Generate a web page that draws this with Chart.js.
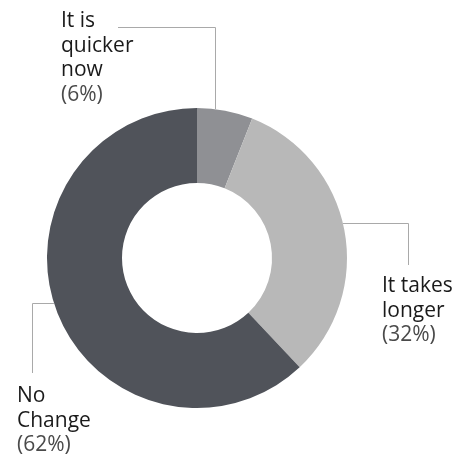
<!DOCTYPE html>
<html>
<head>
<meta charset="utf-8">
<script src="https://cdn.jsdelivr.net/npm/chart.js@4.4.1/dist/chart.umd.min.js"></script>
<style>
  html, body { margin: 0; padding: 0; background: #fff; }
  #wrap { width: 461px; height: 458px; position: relative; }
</style>
</head>
<body>
<div id="wrap"><canvas id="timeChart"></canvas></div>
<script>
// answers and their shares
var answers = ["It is quicker now", "It takes longer", "No Change"];
var shares = [6, 32, 62];
var sliceColors = ["#8f9094", "#b8b8b8", "#50535a"];

// label text lines and where each callout sits
var callouts = [
  { lines: ["It is", "quicker", "now"], x: 61, y: 27, side: "top", lineY: 27, lineX: 215, startX: 118 },
  { lines: ["It takes", "longer"], x: 382, y: 292, side: "right", lineY: 223, lineX: 408, endY: 265 },
  { lines: ["No", "Change"], x: 17, y: 402, side: "left", lineY: 303, lineX: 32, endY: 373 }
];

var calloutPlugin = {
  id: "callouts",
  afterDatasetsDraw: function (chart) {
    var ctx = chart.ctx;
    var arc = chart.getDatasetMeta(0).data[0];
    var cx = arc.x, cy = arc.y, r = arc.outerRadius;
    ctx.save();
    ctx.strokeStyle = "#a9a9a9";
    ctx.lineWidth = 1;
    callouts.forEach(function (c, i) {
      ctx.beginPath();
      if (c.side === "top") {
        var yEdge = cy - Math.sqrt(r * r - (c.lineX - cx) * (c.lineX - cx));
        ctx.moveTo(c.startX, c.lineY + 0.5);
        ctx.lineTo(c.lineX + 0.5, c.lineY + 0.5);
        ctx.lineTo(c.lineX + 0.5, yEdge);
      } else {
        var dx = Math.sqrt(r * r - (c.lineY - cy) * (c.lineY - cy));
        var xEdge = c.side === "right" ? cx + dx : cx - dx;
        ctx.moveTo(xEdge, c.lineY + 0.5);
        ctx.lineTo(c.lineX + 0.5, c.lineY + 0.5);
        ctx.lineTo(c.lineX + 0.5, c.endY);
      }
      ctx.stroke();

      ctx.font = "21px 'Open Sans'";
      ctx.textBaseline = "alphabetic";
      ctx.textAlign = "left";
      var y = c.y;
      c.lines.forEach(function (t) {
        ctx.fillStyle = "#1a1a1a";
        ctx.fillText(t, c.x, y);
        y += 24.5;
      });
      ctx.fillStyle = "#4a4a4a";
      ctx.fillText("(" + shares[i] + "%)", c.x, y);
    });
    ctx.restore();
  }
};

new Chart("timeChart", {
  type: "doughnut",
  data: {
    labels: answers,
    datasets: [{
      data: shares,
      backgroundColor: sliceColors,
      borderWidth: 0
    }]
  },
  options: {
    responsive: true,
    maintainAspectRatio: false,
    animation: false,
    cutout: "50%",
    layout: { padding: { left: 47, right: 114, top: 108, bottom: 50 } },
    plugins: {
      legend: { display: false },
      tooltip: { enabled: false }
    }
  },
  plugins: [calloutPlugin]
});
</script>
</body>
</html>
